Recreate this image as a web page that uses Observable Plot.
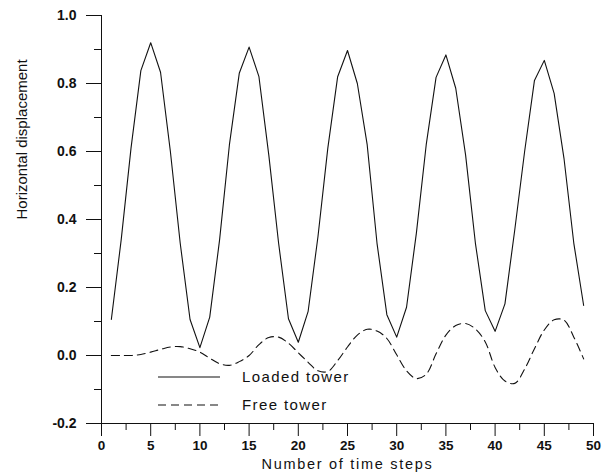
<!DOCTYPE html>
<html>
<head>
<meta charset="utf-8">
<script src="https://cdn.jsdelivr.net/npm/d3@7"></script>
<script src="https://cdn.jsdelivr.net/npm/@observablehq/plot@0.6"></script>
<style>
  html, body { margin: 0; padding: 0; background: #fff; }
  #wrap { position: relative; width: 602px; height: 474px; }
  #legend { position: absolute; left: 0; top: 0; pointer-events: none; }
</style>
</head>
<body>
<div id="wrap"></div>
<script>
const steps = d3.range(1, 50);
const loadedTower = [
  0.106, 0.34, 0.61, 0.838, 0.92, 0.833, 0.60, 0.33, 0.106, 0.023,
  0.113, 0.34, 0.62, 0.83, 0.907, 0.82, 0.59, 0.33, 0.108, 0.039,
  0.13, 0.35, 0.61, 0.82, 0.897, 0.80, 0.62, 0.33, 0.12, 0.054,
  0.142, 0.36, 0.62, 0.818, 0.884, 0.786, 0.59, 0.33, 0.132, 0.071,
  0.152, 0.37, 0.60, 0.809, 0.868, 0.771, 0.58, 0.33, 0.147
];
const freeTower = [
  0.0, 0.0, 0.0, 0.003, 0.01, 0.018, 0.025, 0.026, 0.02, 0.01,
  -0.008, -0.024, -0.029, -0.018, 0.0, 0.032, 0.053, 0.054, 0.036, 0.008,
  -0.02, -0.045, -0.047, -0.015, 0.025, 0.06, 0.077, 0.072, 0.05, 0.002,
  -0.045, -0.068, -0.055, 0.005, 0.06, 0.088, 0.094, 0.078, 0.04, -0.035,
  -0.075, -0.082, -0.04, 0.02, 0.075, 0.105, 0.104, 0.054, -0.01
];
const xMajor = d3.range(0, 51, 5);
const xMinor = d3.range(2.5, 50, 5);
const yMajor = [-0.2, 0.0, 0.2, 0.4, 0.6, 0.8, 1.0];
const yMinor = [-0.1, 0.1, 0.3, 0.5, 0.7, 0.9];
const legendLabels = ["Loaded tower", "Free tower"];
const xTitle = "Number of time steps";
const yTitle = "Horizontal displacement";

const loadedData = steps.map((s, i) => ({s, v: loadedTower[i]}));
const freeData = steps.map((s, i) => ({s, v: freeTower[i]}));

const ink = "#111";
const chart = Plot.plot({
  width: 602,
  height: 474,
  marginLeft: 101,
  marginRight: 9,
  marginTop: 15,
  marginBottom: 51,
  style: {fontFamily: "'Liberation Sans', Arial, sans-serif", fontSize: "14px", fontWeight: "bold", color: ink, background: "#fff"},
  x: {domain: [0, 50]},
  y: {domain: [-0.2, 1.0]},
  marks: [
    Plot.axisX(xMajor, {tickSize: 13, tickPadding: 4, fontSize: 13.5, tickFormat: d => String(d), label: null, stroke: ink}),
    Plot.axisX(xMinor, {tickSize: 7, tickFormat: () => "", label: null, stroke: ink}),
    Plot.axisY(yMajor, {tickSize: 15, tickPadding: 10, tickFormat: d => d.toFixed(1), label: null, stroke: ink}),
    Plot.axisY(yMinor, {tickSize: 7, tickFormat: () => "", label: null, stroke: ink}),
    Plot.ruleX([0], {stroke: ink}),
    Plot.ruleY([-0.2], {stroke: ink}),
    Plot.line(loadedData, {x: "s", y: "v", stroke: ink, strokeWidth: 1.1}),
    Plot.line(freeData, {x: "s", y: "v", stroke: ink, strokeWidth: 1.1, strokeDasharray: "8,5", curve: "catmull-rom"}),
    Plot.text([xTitle], {frameAnchor: "bottom", dy: 45, fontSize: 14.5, fontWeight: "normal", fill: ink}),
    Plot.text([yTitle], {frameAnchor: "left", dx: -79, rotate: -90, fontSize: 15, fontWeight: "normal", fill: ink})
  ]
});

d3.select(chart).selectAll("text")
  .filter(function() { return this.textContent === xTitle; })
  .style("letter-spacing", "1.7px");

const wrap = document.getElementById("wrap");
wrap.appendChild(chart);

// Legend overlay
const leg = d3.select(wrap).append("svg")
  .attr("id", "legend").attr("width", 602).attr("height", 474);
const legRows = [
  {label: legendLabels[0], dash: null, y: 377},
  {label: legendLabels[1], dash: "8,5", y: 405}
];
legRows.forEach(r => {
  leg.append("line")
    .attr("x1", 158).attr("x2", 220).attr("y1", r.y).attr("y2", r.y)
    .attr("stroke", ink).attr("stroke-width", 1.1)
    .attr("stroke-dasharray", r.dash);
  leg.append("text")
    .attr("x", 242).attr("y", r.y).attr("dy", "0.35em")
    .attr("font-family", "'Liberation Sans', Arial, sans-serif")
    .attr("font-size", 15).attr("fill", ink)
    .style("letter-spacing", "1.4px")
    .text(r.label);
});
</script>
</body>
</html>
